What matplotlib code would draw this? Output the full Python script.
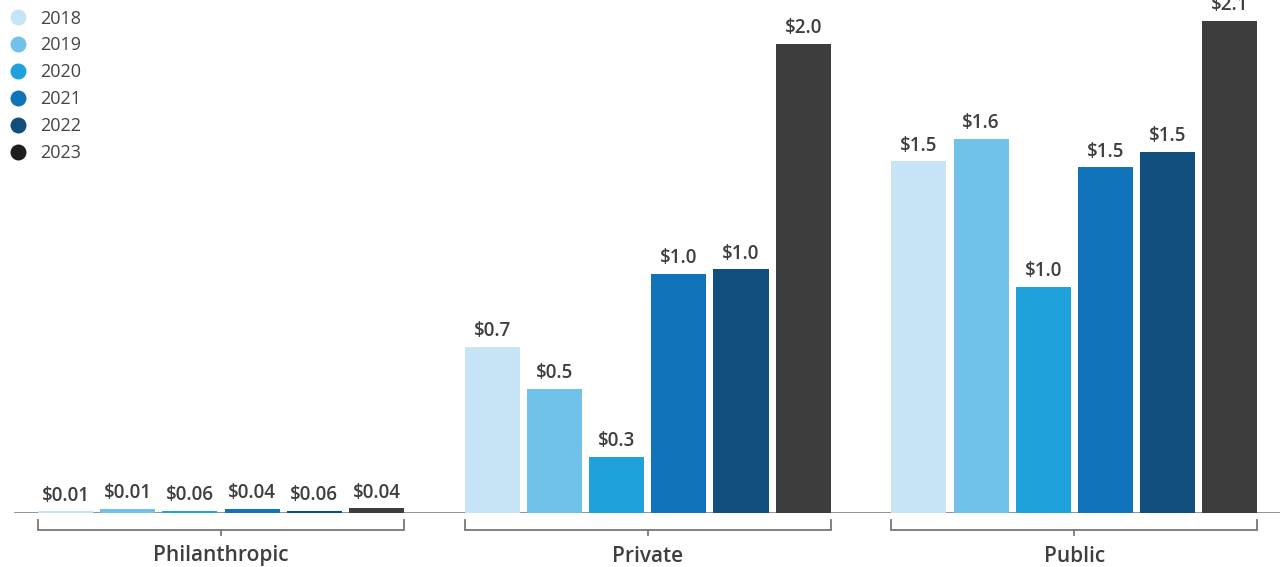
import matplotlib.pyplot as plt
from matplotlib.lines import Line2D
import numpy as np

plt.rcParams['font.family'] = ['Open Sans', 'DejaVu Sans']

# data
categories = ["Philanthropic", "Private", "Public"]
years = ["2018", "2019", "2020", "2021", "2022", "2023"]
# bar heights as drawn (philanthropic ones are tiny slivers)
values = {
    "Philanthropic": [0.008, 0.018, 0.009, 0.018, 0.009, 0.02],
    "Private": [0.71, 0.53, 0.24, 1.02, 1.04, 2.0],
    "Public": [1.50, 1.595, 0.965, 1.475, 1.54, 2.10],
}
labels = {
    "Philanthropic": ["$0.01", "$0.01", "$0.06", "$0.04", "$0.06", "$0.04"],
    "Private": ["$0.7", "$0.5", "$0.3", "$1.0", "$1.0", "$2.0"],
    "Public": ["$1.5", "$1.6", "$1.0", "$1.5", "$1.5", "$2.1"],
}

bar_colors = ["#c6e4f5", "#70c2ea", "#1fa2dc", "#1174bb", "#104f7d", "#3d3d3d"]
legend_colors = ["#c6e4f5", "#70c2ea", "#1fa2dc", "#1174bb", "#104f7d", "#1e1e1e"]
text_color = "#3f3f3f"

fig = plt.figure(figsize=(12.8, 5.67), dpi=100)
ax = fig.add_axes([0, (567 - 513) / 567, 1, 513 / 567])

step_px = 62.2
group_gap = 6.86
width = 0.885

for g, cat in enumerate(categories):
    x = np.arange(len(years)) + g * group_gap
    ax.bar(x, values[cat], width=width, color=bar_colors, zorder=2)
    for xi, v, lab in zip(x, values[cat], labels[cat]):
        ax.annotate(lab, (xi, v), xytext=(0, 4), textcoords="offset points",
                    ha="center", va="bottom", fontsize=13.5, fontweight="semibold",
                    color=text_color, annotation_clip=False)
    # bracket under each group
    x0 = x[0] - width / 2
    x1 = x[-1] + width / 2
    xm = (x0 + x1) / 2
    by = -17 / 234.5
    ax.plot([x0, x0, x1, x1], [-7 / 234.5, by, by, -7 / 234.5], color="#777777",
            lw=1.3, clip_on=False, solid_joinstyle="miter")
    ax.plot([xm, xm], [by, -22 / 234.5], color="#777777", lw=1.3, clip_on=False)
    ax.text(xm, -43 / 234.5, cat, ha="center", va="center", fontsize=15,
            fontweight="semibold", color=text_color)

ax.set_xlim(-65.5 / step_px, (1280 - 65.5) / step_px)
ax.set_ylim(0, 513 / 234.5)
ax.axhline(0, xmin=15 / 1280, xmax=1, color="#8a8a8a", lw=1.3, zorder=1)
ax.axis("off")

handles = [Line2D([], [], marker="o", ls="", ms=11.5, color=c, markeredgewidth=0)
           for c in legend_colors]
fig.legend(handles, years, loc="upper left",
           bbox_to_anchor=(5 / 1280, 1.0 - 6 / 567),
           frameon=False, fontsize=13, labelspacing=0.49, handletextpad=0.75,
           handlelength=1.0, borderpad=0.2, borderaxespad=0, labelcolor="#444444")

fig.savefig("out.png", dpi=100)
